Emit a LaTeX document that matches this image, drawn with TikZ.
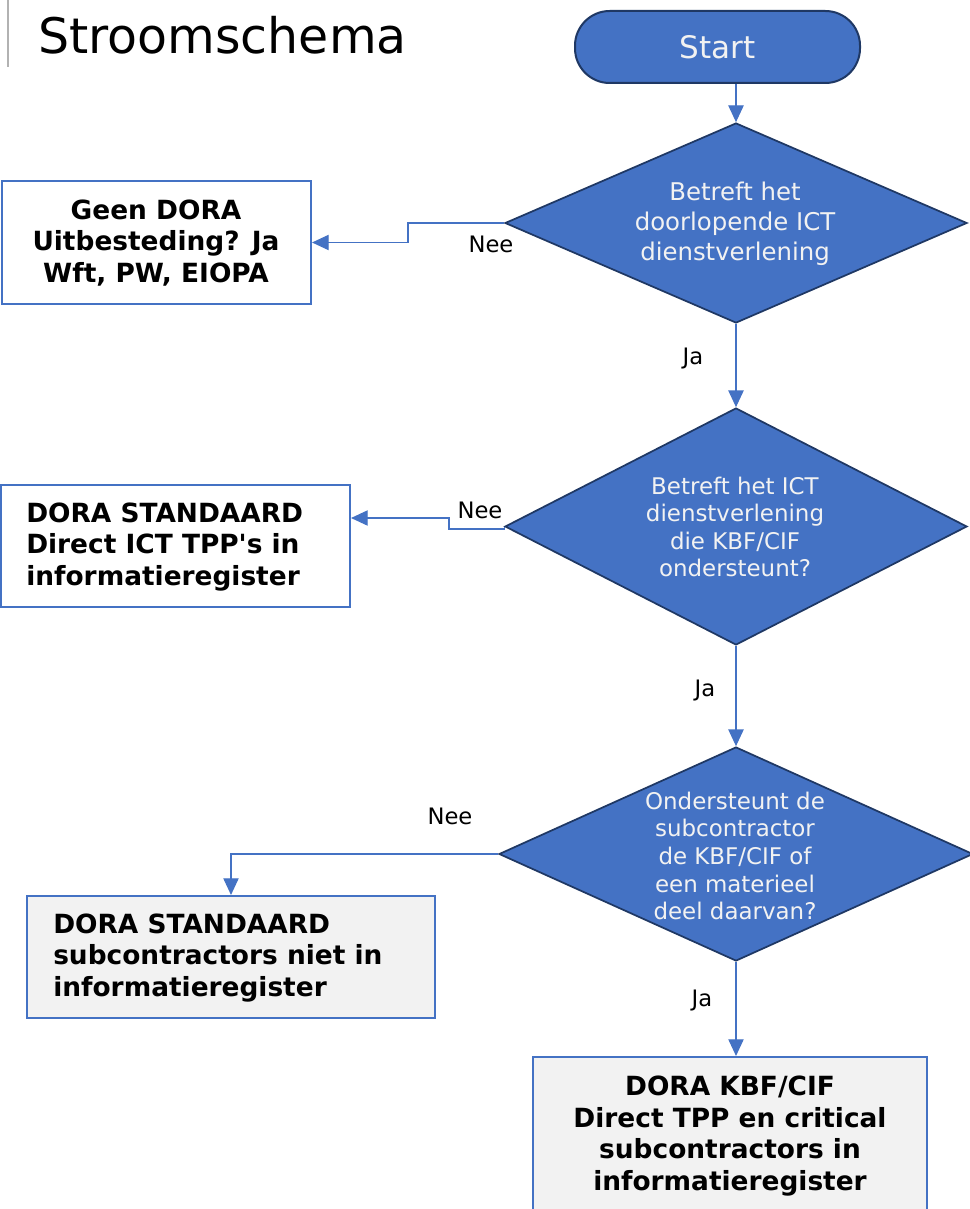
\documentclass[tikz,border=0pt]{standalone}
\usepackage{fontspec}
\setmainfont{DejaVu Sans}
\usetikzlibrary{arrows.meta,shapes.geometric}
\definecolor{blu}{HTML}{4472C4}
\definecolor{navy}{HTML}{1F3864}
\definecolor{lgray}{HTML}{F2F2F2}
\begin{document}
\begin{tikzpicture}[x=0.75pt,y=-0.75pt,
  decision/.style={draw=navy, line width=1.3pt, fill=blu, shape=diamond, inner sep=0pt},
  dtext/.style={text=lgray, align=center, inner sep=0pt, font=\fontsize{17.2}{20.7}\selectfont},
  outbox/.style={draw=blu, line width=1.6pt, inner sep=0pt},
  btext/.style={inner sep=0pt, font=\fontsize{19.8}{23.6}\selectfont\bfseries},
  conn/.style={draw=blu, line width=0.8pt, -{Triangle[length=12.5pt,width=11.5pt]}},
  lbl/.style={inner sep=0pt, font=\fontsize{17}{20}\selectfont}]
\useasboundingbox (0,0) rectangle (970,1209);
\fill[white] (0,0) rectangle (970,1209);

% title
\draw[black!30, line width=1.5pt] (8,0) -- (8,67);
\node[anchor=base west, inner sep=0pt, font=\fontsize{36.75}{44}\selectfont] (title) at (38,54) {Stroomschema};

% start
\node[draw=navy, line width=1.5pt, fill=blu, rounded corners=26pt, minimum width=213.75pt, minimum height=54pt,
      text=lgray, font=\fontsize{23.25}{28}\selectfont] (s) at (717.5,47) {Start};

% decisions
\node[decision, minimum width=462*0.75pt, minimum height=200*0.75pt] (d1) at (736,223) {};
\node[dtext, font=\fontsize{18.3}{22.5}\selectfont] (d1t) at (735,224) {Betreft het\\doorlopende ICT\\dienstverlening};

\node[decision, minimum width=462*0.75pt, minimum height=237*0.75pt] (d2) at (736,526.5) {};
\node[dtext] (d2t) at (735,527) {Betreft het ICT\\dienstverlening\\die KBF/CIF\\ondersteunt?};

\node[decision, minimum width=474*0.75pt, minimum height=214*0.75pt] (d3) at (736,854) {};
\node[dtext] (d3t) at (735,856) {Ondersteunt de\\subcontractor\\de KBF/CIF of\\een materieel\\deel daarvan?};

% outcome boxes
\node[outbox, fill=white, minimum width=309*0.75pt, minimum height=123*0.75pt] (b1) at (156.5,242.5) {};
\node[btext, align=center] (b1t) at (156,243) {Geen DORA\\Uitbesteding? Ja\\Wft, PW, EIOPA};

\node[outbox, fill=white, minimum width=349*0.75pt, minimum height=122*0.75pt] (b2) at (175.5,546) {};
\node[btext, align=left, anchor=west] (b2t) at (26,547) {DORA STANDAARD\\Direct ICT TPP\textquotesingle s in\\informatieregister};

\node[outbox, fill=lgray, minimum width=408*0.75pt, minimum height=122*0.75pt] (b3) at (231,957) {};
\node[btext, align=left, anchor=west] (b3t) at (53,958) {DORA STANDAARD\\subcontractors niet in\\informatieregister};

\node[outbox, fill=lgray, minimum width=394*0.75pt, minimum height=160*0.75pt] (b4) at (730,1137) {};
\node[btext, align=center] (b4t) at (730,1136) {DORA KBF/CIF\\Direct TPP en critical\\subcontractors in\\informatieregister};

% connectors
\coordinate (k1a) at (408,223);
\coordinate (k1b) at (408,242.5);
\coordinate (k2a) at (449,529);
\coordinate (k2b) at (449,518);
\draw[conn] (s.south -| d1.north) -- (d1.north);
\draw[conn] (d1.west) -- (k1a) -- (k1b) -- (b1.east);
\draw[conn] (d1.south) -- (d2.north);
\draw[conn] (d2.west) |- (k2a) -- (k2b) -- (b2.east |- k2b);
\draw[conn] (d2.south) -- (d3.north);
\draw[conn] (d3.west) -| (b3.north);
\draw[conn] (d3.south) -- (d3.south |- b4.north);

% labels
\node[lbl] (n1) at (491,244) {Nee};
\node[lbl] (j1) at (693,359) {Ja};
\node[lbl] (n2) at (480,510) {Nee};
\node[lbl] (j2) at (705,690) {Ja};
\node[lbl] (n3) at (450,816) {Nee};
\node[lbl] (j3) at (702,1000) {Ja};
\end{tikzpicture}
\end{document}
